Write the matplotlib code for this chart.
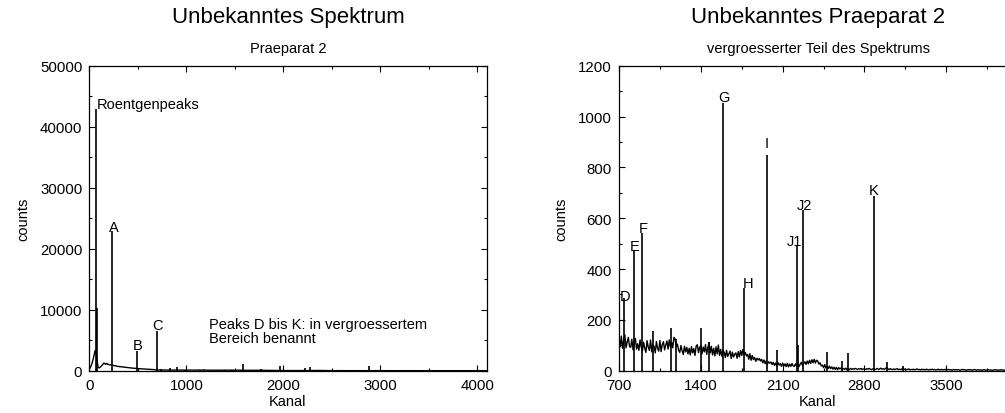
import numpy as np
import matplotlib
matplotlib.use('Agg')
import matplotlib.pyplot as plt
from matplotlib.ticker import MultipleLocator

plt.rcParams['font.family'] = ['Liberation Sans', 'DejaVu Sans']

# ---------------- data ----------------
# background counts, one value every 10 channels (channel 0 ... 4090)
untergrund = [
    300, 500, 850, 1300, 1900, 2600, 3300, 3000, 1800, 600,
    450, 550, 700, 850, 1050, 1250, 1150, 1050, 1200, 1050,
    1000, 950, 1000, 900, 850, 880, 800, 820, 750, 700,
    720, 650, 680, 620, 640, 580, 600, 560, 540, 520,
    500, 480, 470, 450, 430, 420, 400, 390, 380, 360,
    350, 340, 320, 310, 300, 290, 280, 270, 260, 250,
    240, 230, 220, 210, 200, 190, 180, 170, 160, 130,
    128, 94, 136, 88, 119, 141, 90, 113, 131, 95,
    92, 124, 82, 110, 127, 85, 106, 80, 121, 93,
    78, 112, 89, 72, 118, 92, 80, 121, 74, 104,
    95, 70, 115, 88, 77, 119, 75, 103, 114, 82,
    101, 117, 85, 121, 93, 112, 90, 131, 125, 96,
    104, 80, 72, 99, 78, 64, 96, 74, 92, 66,
    88, 62, 95, 70, 87, 60, 97, 102, 71, 92,
    98, 66, 93, 74, 103, 64, 90, 110, 70, 96,
    62, 88, 58, 94, 66, 101, 60, 84, 57, 80,
    72, 52, 80, 56, 66, 77, 48, 73, 54, 65,
    70, 49, 75, 54, 79, 60, 84, 63, 72, 58,
    64, 45, 67, 41, 60, 44, 52, 37, 49, 42,
    48, 38, 45, 31, 42, 28, 39, 26, 35, 30,
    34, 24, 33, 21, 30, 19, 32, 22, 28, 17,
    30, 18, 27, 16, 29, 15, 26, 17, 28, 19,
    17, 27, 18, 29, 16, 26, 33, 20, 28, 35,
    25, 38, 27, 41, 29, 43, 31, 45, 30, 41,
    38, 26, 31, 19, 22, 12, 24, 11, 17, 9,
    18, 8, 15, 6, 14, 5, 13, 4, 12, 7,
    11, 4, 9, 5, 10, 3, 8, 4, 9, 5,
    8, 6, 9, 7, 5, 8, 6, 9, 5, 7,
    7, 5, 8, 6, 9, 6, 4, 7, 8, 5,
    6, 9, 5, 7, 10, 6, 8, 5, 9, 12,
    7, 5, 8, 6, 4, 7, 5, 6, 8, 4,
    6, 4, 7, 10, 5, 6, 4, 5, 7, 3,
    5, 4, 6, 3, 5, 7, 4, 5, 3, 6,
    4, 5, 3, 6, 4, 3, 5, 4, 6, 3,
    5, 3, 4, 6, 3, 4, 5, 3, 4, 5,
    3, 4, 5, 3, 4, 2, 5, 3, 4, 3,
    4, 3, 2, 4, 5, 3, 4, 2, 3, 4,
    3, 4, 2, 3, 5, 3, 2, 4, 3, 2,
    3, 2, 4, 3, 2, 3, 4, 2, 3, 2,
    2, 3, 4, 2, 3, 2, 3, 4, 2, 3,
    2, 3, 2, 1, 3, 2, 2, 1, 2, 1,
]
kanal_schritt = 10
kanal = np.arange(len(untergrund)) * kanal_schritt

# sharp peaks (channel, counts)
peak_kanal = [69, 80, 235, 490, 697, 743, 831, 899, 988, 1144, 1184, 1400,
              1471, 1588, 1770, 1966, 2051, 2220, 2228, 2273, 2481, 2606,
              2658, 2883, 2991, 3127]
peak_counts = [42900, 10300, 22850, 3180, 6450, 285, 470, 542, 157, 167, 125,
               167, 114, 1052, 324, 849, 81, 495, 100, 633, 75, 39, 68, 689,
               33, 20]

# labels, left plot
links_text = ['Roentgenpeaks', 'A', 'B', 'C']
links_x = [72, 255, 500, 707]
links_y = [43800, 23600, 4200, 7540]
links_ha = ['left', 'center', 'center', 'center']
hinweis_text = 'Peaks D bis K: in vergroessertem\nBereich benannt'
hinweis_x, hinweis_y = 1235, 6550

# labels, right plot
rechts_text = ['D', 'E', 'F', 'G', 'H', 'I', 'J1', 'J2', 'K']
rechts_x = [753, 831, 905, 1600, 1800, 1960, 2200, 2290, 2880]
rechts_y = [295, 490, 560, 1075, 345, 897, 510, 650, 710]

# ---------------- figure ----------------
W, H = 1005, 414
fig = plt.figure(figsize=(W / 100, H / 100), dpi=100)

def px_axes(x0, x1, ytop, ybot):
    return fig.add_axes([x0 / W, (H - ybot) / H, (x1 - x0) / W, (ybot - ytop) / H])

ax1 = px_axes(89.3, 486.7, 66.7, 371.7)
ax2 = px_axes(619.0, 1016.0, 66.7, 371.7)

fs = 10.5
for ax in (ax1, ax2):
    ax.plot(kanal, untergrund, color='black', lw=1.0)
    ax.vlines(peak_kanal, 0, peak_counts, color='black', lw=1.2)
    ax.tick_params(which='both', direction='in', top=True, right=True,
                   labelsize=10.8)
    ax.tick_params(axis='x', which='both', pad=5.5)
    ax.tick_params(axis='y', which='both', pad=5)
    ax.tick_params(which='major', length=4.5, width=0.8)
    ax.tick_params(which='minor', length=2.5, width=0.8)
    for s in ax.spines.values():
        s.set_linewidth(0.9)
    ax.set_xlabel('Kanal', fontsize=fs, labelpad=1)
    ax.set_ylabel('counts', fontsize=fs, labelpad=7)

ax1.set_xlim(0, 4096)
ax1.set_ylim(0, 50000)
ax1.set_xticks([0, 1000, 2000, 3000, 4000])
ax1.xaxis.set_minor_locator(MultipleLocator(500))
ax1.yaxis.set_major_locator(MultipleLocator(10000))
ax1.yaxis.set_minor_locator(MultipleLocator(5000))

ax2.set_xlim(700, 4096)
ax2.set_ylim(0, 1200)
ax2.set_xticks([700, 1400, 2100, 2800, 3500])
ax2.xaxis.set_minor_locator(MultipleLocator(350))
ax2.yaxis.set_major_locator(MultipleLocator(200))
ax2.yaxis.set_minor_locator(MultipleLocator(100))

for t, x, y, ha in zip(links_text, links_x, links_y, links_ha):
    ax1.text(x, y, t, ha=ha, va='center', fontsize=fs)
ax1.text(hinweis_x, hinweis_y, hinweis_text, ha='left', va='center',
         fontsize=fs, linespacing=1.0)

for t, x, y in zip(rechts_text, rechts_x, rechts_y):
    ax2.text(x, y, t, ha='center', va='center', fontsize=fs)

fig.text(288 / W, 1 - 17 / H, 'Unbekanntes Spektrum', ha='center', va='center', fontsize=16)
fig.text(288 / W, 1 - 49 / H, 'Praeparat 2', ha='center', va='center', fontsize=10.5)
fig.text(818 / W, 1 - 17 / H, 'Unbekanntes Praeparat 2', ha='center', va='center', fontsize=16)
fig.text(818 / W, 1 - 49 / H, 'vergroesserter Teil des Spektrums', ha='center', va='center', fontsize=10.5)

fig.savefig('out.png', dpi=100)
